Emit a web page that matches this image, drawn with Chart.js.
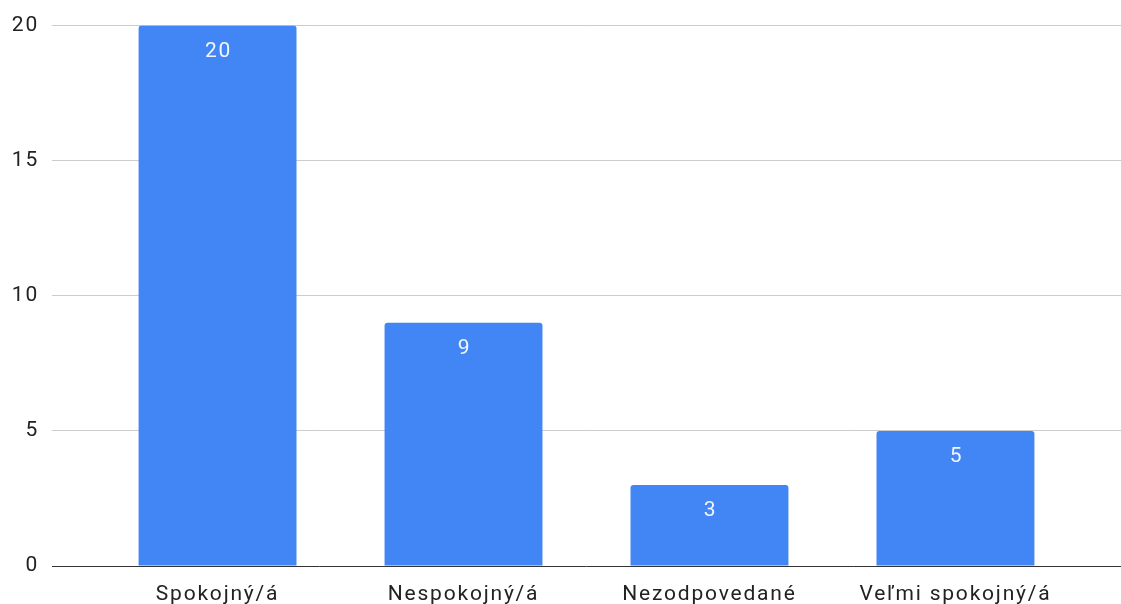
<!DOCTYPE html>
<html>
<head>
<meta charset="utf-8">
<script src="https://cdn.jsdelivr.net/npm/chart.js@4/dist/chart.umd.min.js"></script>
<style>
  html, body { margin: 0; padding: 0; background: #fff; }
  #wrap { width: 1121px; height: 604px; position: relative; }
</style>
</head>
<body>
<div id="wrap"><canvas id="chart"></canvas></div>
<script>
const categories = ['Spokojný/á', 'Nespokojný/á', 'Nezodpovedané', 'Veľmi spokojný/á'];
const counts = [20, 9, 3, 5];
const yTicks = [0, 5, 10, 15, 20];

// the sheet export renders text a bit wider than plain Roboto
const spacing = {
    id: 'spacing',
    beforeInit(chart) { chart.ctx.letterSpacing = '1.8px'; },
    beforeDraw(chart) { chart.ctx.letterSpacing = '1.8px'; }
};

// inside-top value labels
const valueLabels = {
    id: 'valueLabels',
    afterDatasetsDraw(chart) {
        const ctx = chart.ctx;
        const meta = chart.getDatasetMeta(0);
        ctx.save();
        ctx.font = '21px Roboto, "Liberation Sans", sans-serif';
        ctx.fillStyle = 'rgba(255,255,255,0.92)';
        ctx.textAlign = 'center';
        ctx.textBaseline = 'middle';
        meta.data.forEach((bar, i) => {
            ctx.fillText(String(counts[i]), bar.x + 1, bar.y + 26);
        });
        ctx.restore();
    }
};

Chart.defaults.font.family = 'Roboto, "Liberation Sans", sans-serif';

new Chart(document.getElementById('chart').getContext('2d'), {
    type: 'bar',
    data: {
        datasets: [{
            data: counts.map((v, i) => ({ x: i, y: v })),
            backgroundColor: '#4285f4',
            borderRadius: { topLeft: 3, topRight: 3, bottomLeft: 0, bottomRight: 0 },
            borderSkipped: 'bottom',
            categoryPercentage: 1,
            barPercentage: 0.642
        }]
    },
    options: {
        responsive: true,
        maintainAspectRatio: false,
        animation: false,
        layout: { padding: { top: 24, right: 0, bottom: 0, left: 0 } },
        plugins: {
            legend: { display: false },
            tooltip: { enabled: false }
        },
        scales: {
            x: {
                type: 'linear',
                offset: false,
                min: -0.673,
                max: 3.673,
                grid: { display: false },
                border: { display: false },
                afterBuildTicks: (scale) => {
                    scale.ticks = categories.map((_, i) => ({ value: i }));
                },
                afterFit: (scale) => { scale.height = 38; },
                ticks: {
                    autoSkip: false,
                    maxRotation: 0,
                    padding: 8,
                    color: '#222',
                    font: { size: 21 },
                    callback: (v) => categories[v]
                }
            },
            y: {
                min: 0,
                max: 20,
                afterBuildTicks: (scale) => {
                    scale.ticks = yTicks.map(v => ({ value: v }));
                },
                afterFit: (scale) => { scale.width = 52; },
                grid: {
                    drawTicks: false,
                    color: (c) => c.tick && c.tick.value === 0 ? '#333' : '#ccc',
                    lineWidth: 1
                },
                border: { display: false },
                ticks: {
                    padding: 13,
                    color: '#222',
                    font: { size: 21 }
                }
            }
        }
    },
    plugins: [spacing, valueLabels]
});
</script>
</body>
</html>
